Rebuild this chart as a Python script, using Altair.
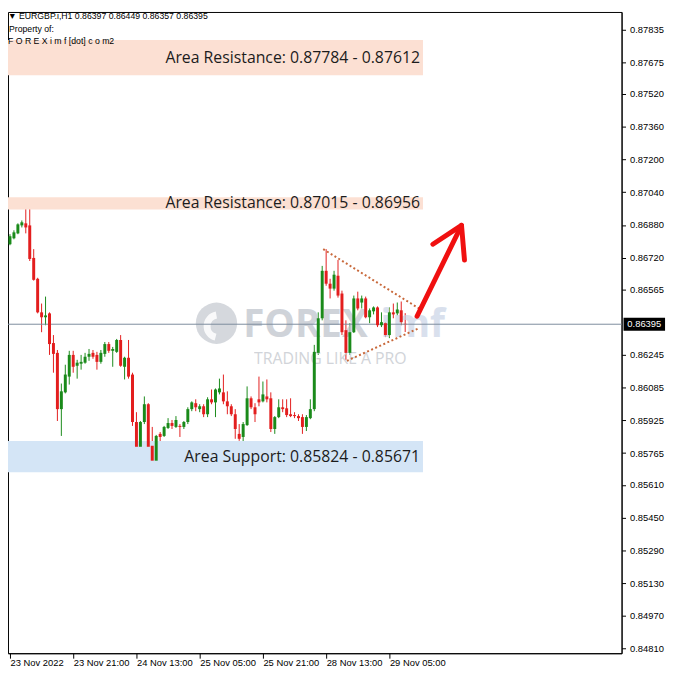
import altair as alt
import pandas as pd

# ---------------- data ----------------
bar_open = [0.86786, 0.86815, 0.86839, 0.86878, 0.86888, 0.86878, 0.86719, 0.86617, 0.86453, 0.86429,
            0.86448, 0.86303, 0.86255, 0.85980, 0.86062, 0.86139, 0.86245, 0.86192, 0.86202, 0.86207,
            0.86236, 0.86255, 0.86245, 0.86211, 0.86250, 0.86298, 0.86265, 0.86260, 0.86318, 0.86187,
            0.86231, 0.86149, 0.85917, 0.85796, 0.85917, 0.86004, 0.85801, 0.85728, 0.85859, 0.85849,
            0.85888, 0.85912, 0.85893, 0.85898, 0.85893, 0.85917, 0.85980, 0.86009, 0.85980, 0.85994,
            0.85955, 0.86028, 0.86013, 0.86062, 0.86062, 0.86018, 0.85994, 0.85955, 0.85859, 0.85844,
            0.85902, 0.86033, 0.85989, 0.86028, 0.86018, 0.86042, 0.86033, 0.85883, 0.85941, 0.85989,
            0.85984, 0.85955, 0.85951, 0.85946, 0.85941, 0.85893, 0.85936, 0.85980, 0.86255, 0.86424,
            0.86656, 0.86593, 0.86569, 0.86632, 0.86545, 0.86366, 0.86255, 0.86356, 0.86521, 0.86501,
            0.86521, 0.86429, 0.86458, 0.86477, 0.86390, 0.86400, 0.86342, 0.86453, 0.86448, 0.86463,
            0.86397]
bar_high = [0.86835, 0.86854, 0.86888, 0.86902, 0.86970, 0.86999, 0.86762, 0.86622, 0.86496, 0.86530,
            0.86453, 0.86342, 0.86269, 0.86105, 0.86197, 0.86265, 0.86265, 0.86221, 0.86245, 0.86255,
            0.86274, 0.86269, 0.86260, 0.86269, 0.86308, 0.86308, 0.86284, 0.86323, 0.86342, 0.86236,
            0.86318, 0.86158, 0.85965, 0.85922, 0.86042, 0.86009, 0.85893, 0.85854, 0.85868, 0.85898,
            0.85936, 0.85927, 0.85946, 0.85907, 0.85922, 0.85989, 0.86018, 0.86028, 0.86004, 0.86004,
            0.86038, 0.86076, 0.86081, 0.86129, 0.86149, 0.86067, 0.86004, 0.85980, 0.85907, 0.85917,
            0.86091, 0.86042, 0.86009, 0.86139, 0.86115, 0.86125, 0.86062, 0.85946, 0.86028, 0.86028,
            0.86028, 0.86033, 0.85965, 0.85955, 0.85955, 0.85951, 0.86028, 0.86294, 0.86453, 0.86680,
            0.86762, 0.86617, 0.86656, 0.86709, 0.86559, 0.86414, 0.86400, 0.86535, 0.86554, 0.86535,
            0.86530, 0.86472, 0.86482, 0.86482, 0.86453, 0.86405, 0.86477, 0.86496, 0.86501, 0.86506,
            0.86449]
bar_low = [0.86781, 0.86810, 0.86835, 0.86868, 0.86839, 0.86704, 0.86608, 0.86448, 0.86356, 0.86390,
           0.86245, 0.86158, 0.85922, 0.85849, 0.86057, 0.86100, 0.86158, 0.86129, 0.86173, 0.86202,
           0.86216, 0.86226, 0.86173, 0.86202, 0.86236, 0.86255, 0.86187, 0.86255, 0.86187, 0.86125,
           0.86129, 0.85898, 0.85772, 0.85748, 0.85907, 0.85786, 0.85704, 0.85724, 0.85748, 0.85844,
           0.85883, 0.85883, 0.85888, 0.85844, 0.85883, 0.85907, 0.85970, 0.85970, 0.85965, 0.85941,
           0.85941, 0.86004, 0.85941, 0.86052, 0.86004, 0.85955, 0.85946, 0.85835, 0.85825, 0.85762,
           0.85898, 0.85980, 0.85917, 0.85994, 0.86013, 0.86013, 0.85868, 0.85859, 0.85936, 0.85965,
           0.85941, 0.85941, 0.85936, 0.85922, 0.85859, 0.85873, 0.85931, 0.85970, 0.86245, 0.86414,
           0.86583, 0.86521, 0.86559, 0.86525, 0.86342, 0.86221, 0.86245, 0.86352, 0.86463, 0.86472,
           0.86424, 0.86400, 0.86443, 0.86381, 0.86381, 0.86332, 0.86327, 0.86424, 0.86438, 0.86390,
           0.86357]
bar_close = [0.86825, 0.86844, 0.86883, 0.86893, 0.86868, 0.86714, 0.86612, 0.86453, 0.86429, 0.86438,
             0.86298, 0.86250, 0.85980, 0.86067, 0.86149, 0.86245, 0.86187, 0.86207, 0.86211, 0.86236,
             0.86250, 0.86236, 0.86211, 0.86255, 0.86298, 0.86265, 0.86274, 0.86318, 0.86192, 0.86231,
             0.86139, 0.85917, 0.85796, 0.85917, 0.86004, 0.85796, 0.85728, 0.85849, 0.85844, 0.85893,
             0.85912, 0.85898, 0.85927, 0.85893, 0.85917, 0.85980, 0.86013, 0.85989, 0.85994, 0.85955,
             0.86028, 0.86013, 0.86076, 0.86081, 0.86018, 0.85994, 0.85955, 0.85883, 0.85835, 0.85907,
             0.86033, 0.85989, 0.85955, 0.86013, 0.86052, 0.86028, 0.85883, 0.85941, 0.85989, 0.85980,
             0.85951, 0.85946, 0.85946, 0.85936, 0.85893, 0.85941, 0.85980, 0.86260, 0.86424, 0.86656,
             0.86593, 0.86569, 0.86637, 0.86535, 0.86356, 0.86255, 0.86356, 0.86521, 0.86472, 0.86521,
             0.86429, 0.86463, 0.86477, 0.86390, 0.86405, 0.86342, 0.86453, 0.86443, 0.86467, 0.86405,
             0.86395]

x_tick_index = [0, 16, 32, 48, 64, 80, 96]
x_tick_labels = ["23 Nov 2022", "23 Nov 21:00", "24 Nov 13:00", "25 Nov 05:00",
                 "25 Nov 21:00", "28 Nov 13:00", "29 Nov 05:00"]
y_tick_values = [0.87835, 0.87675, 0.87520, 0.87360, 0.87200, 0.87040, 0.86880, 0.86720,
                 0.86565, 0.86245, 0.86085, 0.85925, 0.85765, 0.85610, 0.85450,
                 0.85290, 0.85130, 0.84970, 0.84810]
current_price = 0.86395

zone_names = ["Area Resistance", "Area Resistance", "Area Support"]
zone_top = [0.87784, 0.87015, 0.85824]
zone_bottom = [0.87612, 0.86956, 0.85671]
zone_kind = ["res", "res", "sup"]
zone_start = [-0.5, -0.5, -0.5]
zone_end = [104.5, 104.5, 104.5]

tri_upper_x = [79.25, 103.5]
tri_upper_y = [0.86762, 0.86472]
tri_lower_x = [85.25, 103.5]
tri_lower_y = [0.86216, 0.86376]

arrow_shaft_x = [103.0, 114.25]
arrow_shaft_y = [0.86434, 0.86878]
arrow_head_x = [107.0, 114.25, 115.0]
arrow_head_y = [0.86786, 0.86878, 0.86709]

header_line = "▼ EURGBP.i,H1  0.86397 0.86449 0.86357 0.86395"

# ---------------- build tables ----------------
n = len(bar_close)
bars = pd.DataFrame({"i": list(range(n)), "open": bar_open, "high": bar_high,
                     "low": bar_low, "close": bar_close})
bars["dir"] = ["up" if c >= o else "down" for o, c in zip(bar_open, bar_close)]

zones = pd.DataFrame({"x": zone_start, "x2": zone_end, "top": zone_top, "bottom": zone_bottom,
                      "kind": zone_kind})
zones["mid"] = (zones["top"] + zones["bottom"]) / 2
zones["label"] = [f"{nm}: {t:.5f} - {b:.5f}" for nm, t, b in zip(zone_names, zone_top, zone_bottom)]
zones["tx"] = [x2 - 0.75 for x2 in zone_end]

tri = pd.DataFrame({
    "seg": ["u", "u", "l", "l"],
    "x": tri_upper_x + tri_lower_x,
    "y": tri_upper_y + tri_lower_y,
    "o": [0, 1, 0, 1],
})
arrow = pd.DataFrame({
    "seg": ["s", "s", "h", "h", "h"],
    "x": arrow_shaft_x + arrow_head_x,
    "y": arrow_shaft_y + arrow_head_y,
    "o": [0, 1, 0, 1, 2],
})

W, H = 621, 649
xs = alt.Scale(domain=[-0.5, 154.75], nice=False, zero=False, padding=0)
ys = alt.Scale(domain=[0.84787, 0.87921], nice=False, zero=False, padding=0)

label_arr = "[" + ",".join(f"'{t}'" for t in x_tick_labels) + "]"

X = alt.X("i:Q", scale=xs,
          axis=alt.Axis(values=x_tick_index, labelExpr=f"{label_arr}[round(datum.value/16)]",
                        title=None, grid=False, labelAlign="left", labelBaseline="top",
                        labelPadding=-1, tickSize=5, tickColor="#000", tickCount=20,
                        domainColor="#000", labelColor="#000", labelFont="Liberation Sans",
                        labelFontSize=9.5, labelOverlap=False, labelFlush=False))
Y_axis = alt.Axis(orient="right", values=y_tick_values, format=".5f", title=None, grid=False,
                  tickSize=4, tickColor="#000", domainColor="#000", labelColor="#000",
                  tickCount=40, labelFont="Liberation Sans", labelFontSize=9.5, labelPadding=4,
                  labelOverlap=False, labelFlush=False)

# candle layers come first so that their axes define the shared axes
candle_color = alt.Color("dir:N", scale=alt.Scale(domain=["up", "down"],
                                                  range=["#1A8A1A", "#E31E1E"]), legend=None)
wicks = alt.Chart(bars).mark_rule(strokeWidth=1).encode(
    x=X, y=alt.Y("low:Q", scale=ys, axis=Y_axis), y2="high:Q", color=candle_color)
bodies = alt.Chart(bars).mark_bar(width=3).encode(
    x=alt.X("i:Q", scale=xs, title=None), y=alt.Y("open:Q", scale=ys, title=None), y2="close:Q",
    color=candle_color)

zone_layer = alt.Chart(zones).mark_rect().encode(
    x=alt.X("x:Q", scale=xs, title=None), x2="x2:Q",
    y=alt.Y("top:Q", scale=ys, title=None), y2="bottom:Q",
    fill=alt.Fill("kind:N", scale=alt.Scale(domain=["res", "sup"], range=["#FCE0D3", "#D4E5F6"]),
                  legend=None),
)

price_line = alt.Chart(pd.DataFrame({"p": [current_price]})).mark_rule(
    color="#7D8B9C", strokeWidth=1).encode(y=alt.Y("p:Q", scale=ys, title=None))

# watermark
wm = pd.DataFrame({"a": [1]})
wm_logo = alt.Chart(wm).mark_circle(size=1750, color="#C3C7CF", opacity=0.7).encode(
    x=alt.value(211), y=alt.value(315))
wm_cut = alt.Chart(wm).mark_arc(radius=15, radius2=8, theta=3.4, theta2=6.1, color="#FFFFFF",
                                opacity=0.85).encode(x=alt.value(213), y=alt.value(318))
wm_forex = alt.Chart(wm).mark_text(text="FOREX", font="Open Sans", fontSize=39, fontWeight="bold",
                                   align="left", baseline="middle", color="#BCC1CA", opacity=0.7
                                   ).encode(x=alt.value(238), y=alt.value(317))
wm_imf = alt.Chart(wm).mark_text(text="imf", font="Open Sans", fontSize=39, fontWeight="bold",
                                 align="left", baseline="middle", color="#C9D4E6", opacity=0.7
                                 ).encode(x=alt.value(377), y=alt.value(317))
wm_tag = alt.Chart(wm).mark_text(text="TRADING LIKE A PRO", font="Open Sans", fontSize=16,
                                 align="left", baseline="middle", color="#CDD0D5", opacity=0.9
                                 ).encode(x=alt.value(249), y=alt.value(351))

zone_text = alt.Chart(zones).mark_text(align="right", baseline="middle", font="Open Sans",
                                       fontSize=16, color="#1C1C1C").encode(
    x=alt.X("tx:Q", scale=xs, title=None), y=alt.Y("mid:Q", scale=ys, title=None), text="label:N")

tri_layer = alt.Chart(tri).mark_line(strokeDash=[2, 2.5], strokeWidth=2, color="#C8683A").encode(
    x=alt.X("x:Q", scale=xs, title=None), y=alt.Y("y:Q", scale=ys, title=None),
    detail="seg:N", order="o:Q")
arrow_layer = alt.Chart(arrow).mark_line(strokeWidth=5, color="#F01010", strokeCap="round",
                                         strokeJoin="round").encode(
    x=alt.X("x:Q", scale=xs, title=None), y=alt.Y("y:Q", scale=ys, title=None),
    detail="seg:N", order="o:Q")

hdr = pd.DataFrame({"t": [header_line, "Property of:", "F O R E X i m f [dot] c o m2"],
                    "px": [0, 1, 0], "py": [4, 17, 29]})
hdr_layer = alt.Chart(hdr).mark_text(align="left", baseline="middle", font="Liberation Sans",
                                     fontSize=8.8, color="#000").encode(
    x=alt.X("px:Q", scale=None, title=None), y=alt.Y("py:Q", scale=None, title=None), text="t:N")

cp = pd.DataFrame({"p": [current_price], "t": [f"{current_price:.5f}"]})
cp_box = alt.Chart(cp).mark_rect(height=13, color="#000").encode(
    x=alt.value(623), x2=alt.value(665), y=alt.Y("p:Q", scale=ys, title=None))
cp_text = alt.Chart(cp).mark_text(color="#fff", font="Liberation Sans", fontSize=9.5,
                                  align="center", baseline="middle").encode(
    x=alt.value(644), y=alt.Y("p:Q", scale=ys, title=None), text="t:N")

chart = alt.layer(
    wicks, zone_layer, wm_logo, wm_cut, wm_forex, wm_imf, wm_tag, price_line, bodies,
    zone_text, tri_layer, arrow_layer, hdr_layer, cp_box, cp_text,
).properties(
    width=W, height=H,
    padding={"left": 0, "top": 0, "right": 48, "bottom": 18},
    autosize=alt.AutoSizeParams(type="none"),
    background="#FFFFFF",
).configure_view(stroke="#000", strokeWidth=1).configure_axis(labelOverlap=False)

chart.save("out.html", embed_options={"renderer": "svg", "actions": False})
